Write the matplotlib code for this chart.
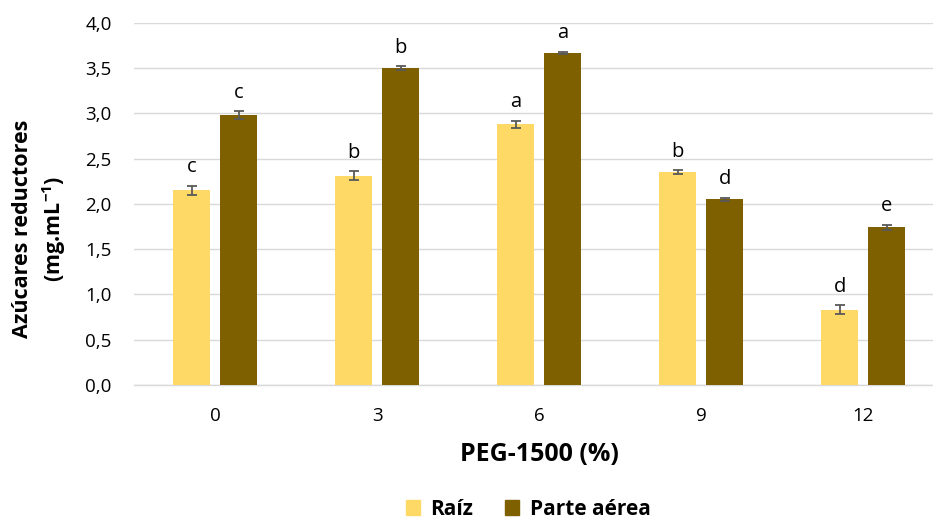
import matplotlib
matplotlib.use("Agg")
import matplotlib.pyplot as plt
import numpy as np
from matplotlib.patches import Patch

categories = ["0", "3", "6", "9", "12"]
raiz = [2.15, 2.31, 2.88, 2.35, 0.83]
raiz_err = [0.05, 0.05, 0.04, 0.02, 0.05]
parte = [2.98, 3.50, 3.67, 2.05, 1.74]
parte_err = [0.04, 0.02, 0.01, 0.02, 0.03]
raiz_letters = ["c", "b", "a", "b", "d"]
parte_letters = ["c", "b", "a", "d", "e"]
yticks = [0.0, 0.5, 1.0, 1.5, 2.0, 2.5, 3.0, 3.5, 4.0]

plt.rcParams['font.family'] = ['Open Sans', 'DejaVu Sans']
plt.rcParams['mathtext.fontset'] = 'custom'
plt.rcParams['mathtext.rm'] = 'Open Sans'
plt.rcParams['mathtext.bf'] = 'Open Sans:bold'

c_raiz = "#FFD966"
c_parte = "#7F6000"
err_c = "#595959"

fig = plt.figure(figsize=(9.33, 5.21), dpi=100)
ax = fig.add_axes([0.1436, 0.261, 0.8687, 0.6954])

x = np.arange(len(categories))
w = 0.228
off = 0.145
ax.bar(x - off, raiz, w, color=c_raiz, zorder=3)
ax.bar(x + off, parte, w, color=c_parte, zorder=3)
ax.errorbar(x - off, raiz, yerr=raiz_err, fmt='none', ecolor=err_c, elinewidth=1.3, capsize=3.5, capthick=1.3, zorder=4)
ax.errorbar(x + off, parte, yerr=parte_err, fmt='none', ecolor=err_c, elinewidth=1.3, capsize=3.5, capthick=1.3, zorder=4)

for xi, v, e, l in zip(x - off, raiz, raiz_err, raiz_letters):
    ax.annotate(l, (xi, v + e), xytext=(0, 6), textcoords='offset points', ha='center', va='bottom', fontsize=14.5)
for xi, v, e, l in zip(x + off, parte, parte_err, parte_letters):
    ax.annotate(l, (xi, v + e), xytext=(0, 6), textcoords='offset points', ha='center', va='bottom', fontsize=14.5)

ax.set_xlim(-0.5, 4.5)
ax.set_ylim(0, 4.0)
ax.set_yticks(yticks)
ax.set_yticklabels([f"{t:.1f}".replace(".", ",") for t in yticks])
ax.set_xticks(x)
ax.set_xticklabels(categories)
ax.tick_params(axis='both', length=0, labelsize=13.5, colors='#000000')
ax.tick_params(axis='y', pad=16)
ax.tick_params(axis='x', pad=16)
ax.grid(axis='y', color='#D9D9D9', linewidth=1.0, zorder=0)
for s in ['top', 'right', 'left']:
    ax.spines[s].set_visible(False)
ax.spines['bottom'].set_color('#D9D9D9')
ax.spines['bottom'].set_linewidth(1.0)

ax.set_xlabel("PEG-1500 (%)", fontsize=18, fontweight='bold', labelpad=12)
fig.text(0.043, 0.56, "Azúcares reductores\n" + r"(mg.mL$^{\mathbf{-1}}$)", rotation=90,
         ha='center', va='center', fontsize=15.5, fontweight='bold', multialignment='center', linespacing=1.35)

handles = [Patch(color=c_raiz, label="Raíz"), Patch(color=c_parte, label="Parte aérea")]
fig.legend(handles=handles, loc='center', bbox_to_anchor=(0.566, 0.022), ncol=2, frameon=False,
           prop={'size': 15, 'weight': 'bold'}, handlelength=0.7, handleheight=0.7, columnspacing=1.5, handletextpad=0.5)

fig.savefig("out.png", dpi=100)
